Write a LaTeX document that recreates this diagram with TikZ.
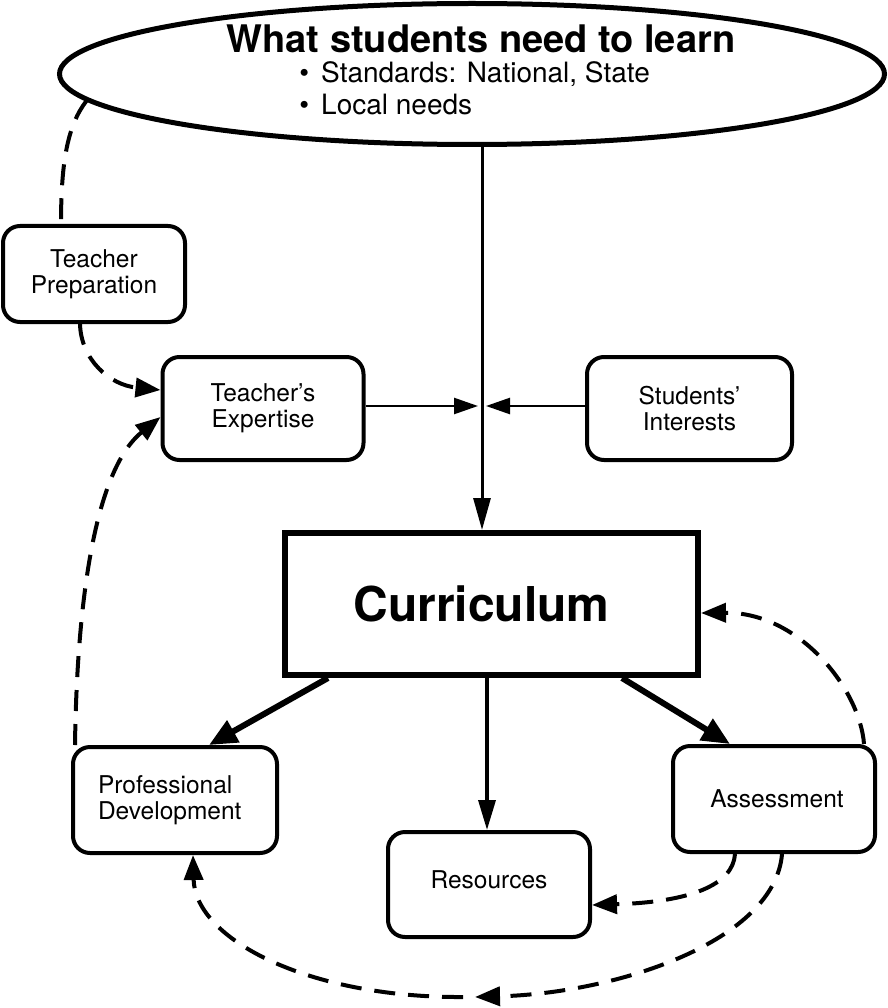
\documentclass[tikz,border=0pt]{standalone}
\usepackage{fontspec}
\setmainfont{TeX Gyre Heros}
\usetikzlibrary{shapes.geometric,arrows.meta}
\begin{document}
\begin{tikzpicture}[x=1pt,y=-1pt,
  box/.style={draw, rounded corners=17pt, line width=4pt, align=center, inner sep=0pt,
    font=\fontsize{24.5}{26}\selectfont},
  thinarrow/.style={line width=2.5pt, -{Triangle[length=24pt,width=16pt]}},
  thickarrow/.style={line width=6pt, -{Triangle[length=28pt,width=24pt]}},
  dashline/.style={line width=4pt, dash pattern=on 21pt off 13pt},
  dasharrow/.style={dashline, -{Triangle[length=25pt,width=19pt]}}]
\path[use as bounding box, fill=white] (0,0) rectangle (887,1008);

% goal ellipse and its texts
\node[draw, ellipse, line width=5pt, minimum width=825pt, minimum height=141pt, inner sep=0pt] (goal) at (472,74) {};
\node[anchor=base, inner sep=0pt, font=\bfseries\fontsize{38}{40}\selectfont] (title) at (481,53) {What students need to learn};
\node[anchor=base west, inner sep=0pt, font=\fontsize{28}{32}\selectfont] (std) at (321,83) {\llap{•\hspace{12pt}}Standards: National, State};
\node[anchor=base west, inner sep=0pt, font=\fontsize{28}{32}\selectfont] (loc) at (321,115) {\llap{•\hspace{12pt}}Local needs};

% boxes
\node[box, minimum width=182pt, minimum height=96pt] (tp) at (94,274) {Teacher\\Preparation};
\node[box, minimum width=201pt, minimum height=103pt] (te) at (263,408.5) {Teacher's\\Expertise};
\node[box, minimum width=205pt, minimum height=103pt] (si) at (689.5,408.5) {Students'\\Interests};
\node[draw, line width=6pt, minimum width=413pt, minimum height=142pt, inner sep=0pt,
  font=\bfseries\fontsize{48}{50}\selectfont] (curr) at (491.5,604) {\hspace*{-20pt}Curriculum};
\node[box, minimum width=204pt, minimum height=106pt, text width=154pt, align=left] (pd) at (175,800) {Professional\\Development};
\node[box, minimum width=202pt, minimum height=105pt] (res) at (489,884.5) {\raisebox{10pt}{Resources}};
\node[box, minimum width=202pt, minimum height=106pt] (ass) at (774,799) {\hspace*{6pt}Assessment};

% solid connectors
\coordinate (junction) at (482,406);
\draw[line width=3pt, -{Triangle[length=32pt,width=17pt]}] ([xshift=10pt]goal.south) -- ([xshift=-9.5pt]curr.north);
\draw[thinarrow] (te.east |- junction) -- ([xshift=-4pt]junction);
\draw[thinarrow] (si.west |- junction) -- ([xshift=4pt]junction);
\draw[thickarrow] ([xshift=-163.5pt]curr.south) -- ([xshift=34pt]pd.north);
\draw[line width=3.5pt, -{Triangle[length=30pt,width=17pt]}] ([xshift=-4.5pt]curr.south) -- ([xshift=-2pt]res.north);
\draw[thickarrow] ([xshift=130.5pt]curr.south) -- ([xshift=-44pt]ass.north);

% dashed connectors
\draw[dashline] (goal.184.6) .. controls (68,125) and (61,160) .. ([xshift=-33pt]tp.north);
\draw[dasharrow] ([xshift=-14pt]tp.south) .. controls (81,360) and (110,385) .. ([yshift=18.5pt]te.west);
\draw[dasharrow] ([xshift=4pt]pd.north west) .. controls (77,600) and (95,470) .. ([yshift=-8.5pt]te.west);
\draw[dasharrow] ([xshift=-13pt]ass.north east) .. controls (860,690) and (800,612) .. ([yshift=-9pt]curr.east);
\draw[dasharrow] ([xshift=-39pt]ass.south) .. controls (733,885) and (690,902) .. ([yshift=-20.5pt]res.east);
\coordinate (bmid) at (475,997);
\draw[dasharrow] ([xshift=8pt]ass.south) .. controls (775,940) and (620,993) .. (bmid);
\draw[dasharrow] ([xshift=-12pt]bmid) .. controls (310,998) and (195,940) .. ([xshift=18pt]pd.south);
\end{tikzpicture}
\end{document}
